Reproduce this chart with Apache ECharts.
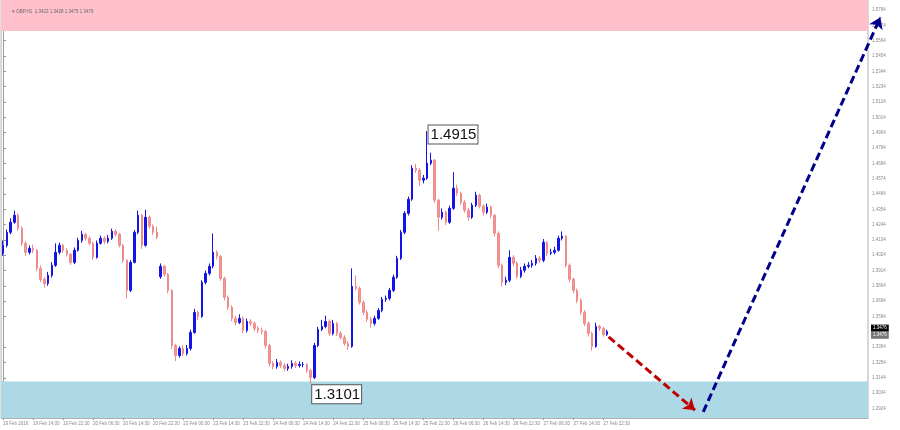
<!DOCTYPE html>
<html><head><meta charset="utf-8">
<script src="https://cdn.jsdelivr.net/npm/echarts@6/dist/echarts.min.js"></script>
<style>html,body{margin:0;padding:0;background:#fff}#c{width:900px;height:430px}</style>
</head><body><div id="c"></div>
<script>
const chartTitle = '\u25BE GBP,H1  1.3423 1.3428 1.3475 1.3476';
const timeLabels = ['19 Feb 2016','19 Feb 14:30','19 Feb 22:30','20 Feb 06:30','20 Feb 14:30','20 Feb 22:30','23 Feb 06:30','23 Feb 14:30','23 Feb 22:30','24 Feb 06:30','24 Feb 14:30','24 Feb 22:30','25 Feb 06:30','25 Feb 14:30','25 Feb 22:30','26 Feb 06:30','26 Feb 14:30','26 Feb 22:30','27 Feb 06:30','27 Feb 14:30','27 Feb 22:30'];
const timeTickIdx = [0,8,16,24,32,40,48,56,64,72,80,88,96,104,112,120,128,136,144,152,160];
const yTicks = [1.5784,1.5674,1.5564,1.5454,1.5344,1.5234,1.5124,1.5014,1.4904,1.4794,1.4684,1.4574,1.4464,1.4354,1.4244,1.4134,1.4024,1.3914,1.3804,1.3694,1.3584,1.3364,1.3254,1.3144,1.3034,1.2924];

const opens = [1.4040,1.4095,1.4189,1.4261,1.4311,1.4218,1.4110,1.4045,1.4074,1.4060,
1.3930,1.3851,1.3822,1.3880,1.3952,1.4045,1.4095,1.4060,1.4031,1.3973,
1.4060,1.4131,1.4175,1.4146,1.4110,1.4009,1.4110,1.4146,1.4124,1.4146,
1.4196,1.4175,1.4095,1.3988,1.3772,1.3973,1.4189,1.4311,1.4095,1.4297,
1.4232,1.4189,1.3870,1.3945,1.3887,1.3772,1.3377,1.3305,1.3355,1.3319,
1.3355,1.3470,1.3614,1.3585,1.3830,1.3894,1.3945,1.4045,1.4016,1.3858,
1.3722,1.3650,1.3571,1.3542,1.3571,1.3485,1.3549,1.3535,1.3499,1.3485,
1.3477,1.3377,1.3248,1.3226,1.3255,1.3233,1.3212,1.3226,1.3248,1.3233,
1.3240,1.3240,1.3197,1.3147,1.3377,1.3492,1.3513,1.3549,1.3463,1.3535,
1.3463,1.3434,1.3391,1.3370,1.3801,1.3786,1.3686,1.3614,1.3564,1.3535,
1.3571,1.3628,1.3707,1.3715,1.3772,1.3866,1.4002,1.4189,1.4325,1.4426,
1.4649,1.4634,1.4563,1.4577,1.4685,1.4706,1.4419,1.4297,1.4333,1.4261,
1.4361,1.4505,1.4469,1.4404,1.4347,1.4297,1.4383,1.4455,1.4376,1.4333,
1.4369,1.4311,1.4182,1.3952,1.3830,1.3844,1.4009,1.3966,1.3873,1.3916,
1.3945,1.3952,1.3966,1.4002,1.3988,1.4117,1.4038,1.4045,1.4060,1.4146,
1.4160,1.3952,1.3851,1.3772,1.3700,1.3614,1.3535,1.3463,1.3370,1.3513,
1.3499,1.3456];
const closes = [1.4095,1.4189,1.4261,1.4311,1.4218,1.4110,1.4045,1.4074,1.4060,1.3930,
1.3851,1.3822,1.3880,1.3952,1.4045,1.4095,1.4060,1.4031,1.3973,1.4060,
1.4131,1.4175,1.4146,1.4110,1.4009,1.4110,1.4146,1.4124,1.4146,1.4196,
1.4175,1.4095,1.3988,1.3772,1.3973,1.4189,1.4311,1.4095,1.4297,1.4232,
1.4189,1.4153,1.3945,1.3887,1.3772,1.3377,1.3305,1.3355,1.3319,1.3355,
1.3470,1.3614,1.3585,1.3830,1.3894,1.3945,1.4045,1.4016,1.3858,1.3722,
1.3650,1.3571,1.3542,1.3571,1.3485,1.3549,1.3535,1.3499,1.3485,1.3477,
1.3377,1.3248,1.3226,1.3255,1.3233,1.3212,1.3226,1.3248,1.3233,1.3240,
1.3240,1.3197,1.3147,1.3377,1.3492,1.3513,1.3549,1.3463,1.3535,1.3463,
1.3434,1.3391,1.3370,1.3801,1.3786,1.3686,1.3614,1.3564,1.3535,1.3571,
1.3628,1.3707,1.3715,1.3772,1.3866,1.4002,1.4189,1.4325,1.4426,1.4649,
1.4634,1.4563,1.4577,1.4685,1.4706,1.4419,1.4297,1.4333,1.4261,1.4361,
1.4505,1.4469,1.4404,1.4347,1.4297,1.4383,1.4455,1.4376,1.4333,1.4369,
1.4311,1.4182,1.3952,1.3830,1.3844,1.4009,1.3966,1.3873,1.3916,1.3945,
1.3952,1.3966,1.4002,1.3988,1.4117,1.4038,1.4045,1.4060,1.4146,1.4160,
1.3952,1.3851,1.3772,1.3700,1.3614,1.3535,1.3463,1.3370,1.3513,1.3499,
1.3456,1.3476];
const lows = [1.4020,1.4080,1.4175,1.4250,1.4200,1.4090,1.4020,1.4030,1.4040,1.3910,
1.3830,1.3790,1.3805,1.3865,1.3940,1.4030,1.4040,1.4015,1.3955,1.3960,
1.4050,1.4115,1.4130,1.4095,1.3990,1.4000,1.4100,1.4105,1.4110,1.4135,
1.4160,1.4080,1.3970,1.3715,1.3760,1.3965,1.4175,1.4070,1.4085,1.4215,
1.4170,1.4140,1.3855,1.3870,1.3750,1.3350,1.3265,1.3290,1.3300,1.3305,
1.3340,1.3460,1.3560,1.3575,1.3815,1.3880,1.3930,1.3995,1.3840,1.3700,
1.3630,1.3550,1.3520,1.3530,1.3465,1.3470,1.3515,1.3480,1.3465,1.3455,
1.3355,1.3225,1.3205,1.3210,1.3215,1.3190,1.3195,1.3210,1.3215,1.3218,
1.3220,1.3180,1.3101,1.3135,1.3365,1.3480,1.3500,1.3445,1.3450,1.3445,
1.3420,1.3375,1.3345,1.3360,1.3770,1.3670,1.3595,1.3545,1.3505,1.3520,
1.3560,1.3615,1.3690,1.3700,1.3760,1.3855,1.3990,1.4175,1.4310,1.4415,
1.4615,1.4520,1.4540,1.4565,1.4670,1.4400,1.4200,1.4280,1.4240,1.4250,
1.4350,1.4450,1.4385,1.4330,1.4270,1.4285,1.4370,1.4360,1.4310,1.4320,
1.4290,1.4160,1.3930,1.3800,1.3810,1.3830,1.3945,1.3855,1.3860,1.3900,
1.3930,1.3935,1.3950,1.3970,1.3975,1.4020,1.4025,1.4030,1.4050,1.4130,
1.3935,1.3830,1.3750,1.3680,1.3595,1.3515,1.3440,1.3340,1.3360,1.3480,
1.3440,1.3445];
const highs = [1.4130,1.4210,1.4290,1.4345,1.4325,1.4230,1.4125,1.4095,1.4100,1.4070,
1.3950,1.3870,1.3905,1.3975,1.4110,1.4115,1.4105,1.4075,1.4040,1.4080,
1.4150,1.4200,1.4185,1.4160,1.4120,1.4130,1.4165,1.4160,1.4170,1.4215,
1.4210,1.4185,1.4105,1.3995,1.3990,1.4205,1.4345,1.4320,1.4350,1.4310,
1.4245,1.4230,1.3965,1.3955,1.3895,1.3780,1.3390,1.3370,1.3375,1.3380,
1.3490,1.3640,1.3630,1.3845,1.3915,1.3965,1.4180,1.4060,1.4025,1.3870,
1.3735,1.3665,1.3590,1.3600,1.3585,1.3570,1.3565,1.3550,1.3515,1.3505,
1.3490,1.3390,1.3265,1.3280,1.3270,1.3250,1.3245,1.3270,1.3265,1.3262,
1.3258,1.3250,1.3210,1.3395,1.3510,1.3560,1.3590,1.3565,1.3560,1.3545,
1.3480,1.3450,1.3410,1.3930,1.3880,1.3800,1.3700,1.3630,1.3580,1.3590,
1.3645,1.3725,1.3735,1.3790,1.3885,1.4020,1.4205,1.4340,1.4445,1.4670,
1.4680,1.4650,1.4600,1.4915,1.4760,1.4715,1.4430,1.4360,1.4345,1.4380,
1.4620,1.4530,1.4480,1.4420,1.4365,1.4400,1.4480,1.4465,1.4390,1.4395,
1.4380,1.4320,1.4195,1.3965,1.3870,1.4060,1.4025,1.3980,1.3940,1.3965,
1.3975,1.3990,1.4025,1.4020,1.4140,1.4125,1.4070,1.4085,1.4165,1.4195,
1.4170,1.3965,1.3865,1.3785,1.3715,1.3630,1.3550,1.3475,1.3540,1.3525,
1.3510,1.3490];

const upperZone = [1.5633, 1.5856];
const lowerZone = [1.2856, 1.3118];
const extremes = [[113, 1.4915], [82, 1.3101]];
const bearArrow = [[161.4, 1.3438], [184.4, 1.2912]];
const bullArrow = [[186.6, 1.2900], [233.8, 1.5732]];
const bidTag = [1.3476];
const askTag = [1.3475];

const candles = opens.map((o, i) => [i, o, closes[i], lows[i], highs[i]]);
const chart = echarts.init(document.getElementById('c'));
const FONT = 'Liberation Sans, Arial, sans-serif';
const yBase = { type: 'value', position: 'right', min: lowerZone[0], max: upperZone[1], scale: true, splitLine: { show: false } };
chart.setOption({
  animation: false,
  backgroundColor: '#fff',
  title: { text: chartTitle, left: 7, top: 4, textStyle: { fontSize: 4.5, color: '#666', fontWeight: 'normal', fontFamily: FONT } },
  grid: { left: 1, right: 32, top: 0, bottom: 12, show: true, borderColor: '#b0b0b0', borderWidth: 1, backgroundColor: 'transparent' },
  xAxis: {
    type: 'value', min: -0.5, max: 230.5,
    axisLine: { show: true, onZero: false, lineStyle: { color: '#b0b0b0' } },
    splitLine: { show: false },
    axisTick: { show: true, length: 2, customValues: timeTickIdx, lineStyle: { color: '#999' } },
    axisLabel: { customValues: timeTickIdx, showMinLabel: true, showMaxLabel: true, hideOverlap: false,
      formatter: v => timeLabels[timeTickIdx.indexOf(Math.round(v))] || '', align: 'left', fontSize: 4.5, color: '#888', margin: 3, fontFamily: FONT }
  },
  yAxis: [
    Object.assign({}, yBase, {
      axisLine: { show: true, lineStyle: { color: '#999' } },
      axisTick: { show: true, length: 3, customValues: yTicks, lineStyle: { color: '#999' } },
      axisLabel: { customValues: yTicks, showMinLabel: true, showMaxLabel: true, formatter: v => v.toFixed(4), fontSize: 4.5, color: '#888', margin: 4, fontFamily: FONT }
    }),
    Object.assign({}, yBase, {
      axisLine: { show: false }, axisTick: { show: false },
      axisLabel: { customValues: bidTag, formatter: v => v.toFixed(4), fontSize: 4.5, color: '#fff', backgroundColor: '#000', padding: [1, 2, 1, 2], margin: 3, verticalAlign: 'bottom', fontFamily: FONT }
    }),
    Object.assign({}, yBase, {
      axisLine: { show: false }, axisTick: { show: false },
      axisLabel: { customValues: askTag, formatter: v => v.toFixed(4), fontSize: 4.5, color: '#fff', backgroundColor: '#777', padding: [1, 2, 1, 2], margin: 3, verticalAlign: 'top', fontFamily: FONT }
    })
  ],
  series: [
    {
      type: 'line', data: [], z: 1, silent: true,
      markArea: { silent: true, data: [
        [{ yAxis: upperZone[0], itemStyle: { color: '#ffc0cb' } }, { yAxis: upperZone[1] }],
        [{ yAxis: lowerZone[0], itemStyle: { color: '#add8e6' } }, { yAxis: lowerZone[1] }]
      ] }
    },
    {
      type: 'candlestick', z: 3, data: candles, encode: { x: 0, y: [1, 2, 3, 4] },
      barWidth: 2,
      itemStyle: { color: '#1414e6', color0: '#f29a9a', borderColor: '#1414e6', borderColor0: '#f08a8a', borderWidth: 1 },
      markPoint: {
        symbol: 'circle', symbolSize: 1, itemStyle: { color: 'rgba(0,0,0,0)' },
        data: [
          { coord: extremes[0], value: extremes[0][1], label: { position: [2, -5] } },
          { coord: extremes[1], value: extremes[1][1], label: { position: [2, 2] } }
        ],
        label: { show: true, formatter: p => p.value.toFixed(4), fontSize: 15, color: '#111', fontFamily: FONT,
          backgroundColor: '#fff', borderColor: '#555', borderWidth: 1, padding: [2, 1, 1, 2] }
      }
    },
    {
      type: 'lines', coordinateSystem: 'cartesian2d', z: 10, clip: false, silent: true,
      symbol: ['none', 'arrow'], symbolSize: 11,
      lineStyle: { width: 3, type: [8, 4], opacity: 1 },
      data: [
        { coords: bearArrow, lineStyle: { color: '#c00000' } },
        { coords: bullArrow, lineStyle: { color: '#00008b' } }
      ]
    }
  ]
});
</script>
</body></html>
